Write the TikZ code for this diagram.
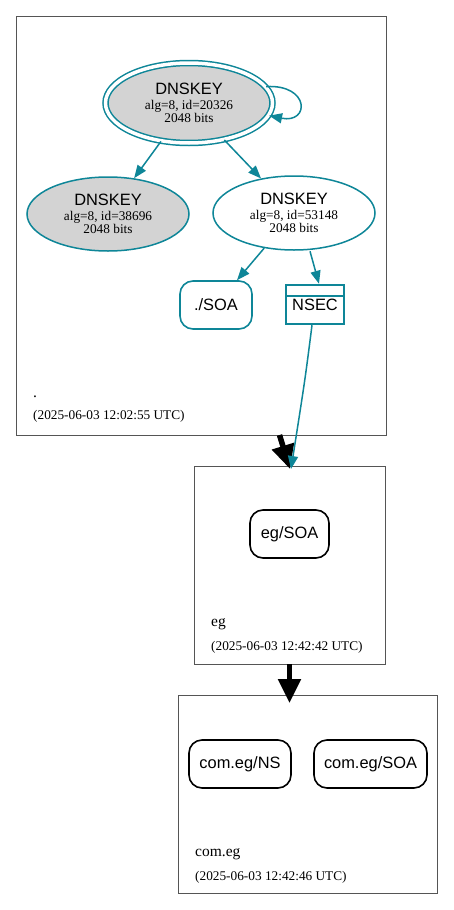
\documentclass[tikz,border=0pt]{standalone}
\usepackage{fontspec}
\setmainfont{Liberation Serif}
\setsansfont{Liberation Sans}
\usetikzlibrary{shapes.geometric,arrows.meta}
\definecolor{teal1}{RGB}{14,134,152}
\definecolor{keygray}{RGB}{211,211,211}
\definecolor{clgray}{RGB}{85,85,85}
\newcommand{\bigsf}{\sffamily\fontsize{16.4}{16.4}\selectfont}
\newcommand{\smrm}{\rmfamily\fontsize{13.3}{13.5}\selectfont}
\newcommand{\lblrm}{\rmfamily\fontsize{15.5}{16}\selectfont}
\begin{document}
\begin{tikzpicture}[x=1pt,y=-1pt,
  keynode/.style={ellipse,draw=teal1,line width=1.5pt,inner sep=0pt,
    minimum width=162pt,minimum height=74pt,align=center,font=\smrm},
  rrnode/.style={rectangle,rounded corners=13pt,draw=black,line width=1.6pt,
    minimum height=48pt,inner sep=0pt,font=\bigsf},
  clbox/.style={rectangle,draw=clgray,line width=0.9pt,inner sep=0pt},
  tarr/.style={draw=teal1,line width=1.5pt,-{Triangle[length=13pt,width=10pt]}},
  barr/.style={draw=black,line width=5.5pt,-{Triangle[length=24pt,width=22pt]}},
  lbl/.style={anchor=base west,inner sep=0pt}
]
\useasboundingbox (0,0) rectangle (453,910);
\fill[white] (0,0) rectangle (453,910);

% clusters
\node[clbox,minimum width=370pt,minimum height=419pt] (c1) at (201,225.5) {};
\node[clbox,minimum width=191pt,minimum height=198pt] (c2) at (289.5,565) {};
\node[clbox,minimum width=259pt,minimum height=198pt] (c3) at (307.5,794) {};

% cluster labels
\node[lbl,font=\lblrm] (l1) at (33,397) {.};
\node[lbl,font=\smrm] (t1) at (33,419.5) {(2025-06-03 12:02:55 UTC)};
\node[lbl,font=\lblrm] (l2) at (211,626) {eg};
\node[lbl,font=\smrm] (t2) at (211,650) {(2025-06-03 12:42:42 UTC)};
\node[lbl,font=\lblrm] (l3) at (195,856) {com.eg};
\node[lbl,font=\smrm] (t3) at (195,880) {(2025-06-03 12:42:46 UTC)};

% keys
\node[keynode,fill=keygray,double=white,double distance=3.5pt,
  minimum width=167pt,minimum height=80pt] (k1) at (189,103)
  {{\bigsf DNSKEY}\\[1pt]alg=8, id=20326\\2048 bits};
\node[keynode,fill=keygray] (k2) at (108,214)
  {{\bigsf DNSKEY}\\[1pt]alg=8, id=38696\\2048 bits};
\node[keynode,fill=white] (k3) at (294,213)
  {{\bigsf DNSKEY}\\[1pt]alg=8, id=53148\\2048 bits};

% records
\node[rrnode,draw=teal1,minimum width=72pt] (soa1) at (216,305) {./SOA};
\node[rectangle,draw=teal1,line width=2.4pt,minimum width=58pt,minimum height=39pt,
  inner sep=0pt,font=\bigsf,
  path picture={\draw[teal1,line width=2pt]
    ([yshift=-11pt]path picture bounding box.north west) --
    ([yshift=-11pt]path picture bounding box.north east);}]
  (nsec) at (315,304.5) {\raisebox{-6pt}{NSEC}};
\node[rrnode,minimum width=79pt] (soa2) at (289.5,534) {eg/SOA};
\node[rrnode,minimum width=102pt] (ns3) at (240,764) {com.eg/NS};
\node[rrnode,minimum width=113pt] (soa3) at (370.5,764) {com.eg/SOA};

% teal edges
\draw[tarr] (k1.12) .. controls (310,84) and (310,124) .. (k1.-9);
\draw[tarr] (k1) -- (k2);
\draw[tarr] (k1) -- (k3);
\draw[tarr] (k3) -- (soa1);
\draw[tarr] ([xshift=16pt,yshift=-0.5pt]k3.south) -- ([xshift=4pt]nsec.north);

% delegation arrows
\coordinate (b1s) at (279.5,435);
\coordinate (b1e) at (290,469);
\draw[barr] (b1s) -- (b1e);
\coordinate (b2s) at (289.5,664);
\coordinate (b2e) at (289.5,703);
\draw[barr] (b2s) -- (b2e);

\coordinate (ne) at (291,469);
\draw[tarr] ([xshift=-3pt]nsec.south) .. controls (305,380) .. (ne);
\end{tikzpicture}
\end{document}
